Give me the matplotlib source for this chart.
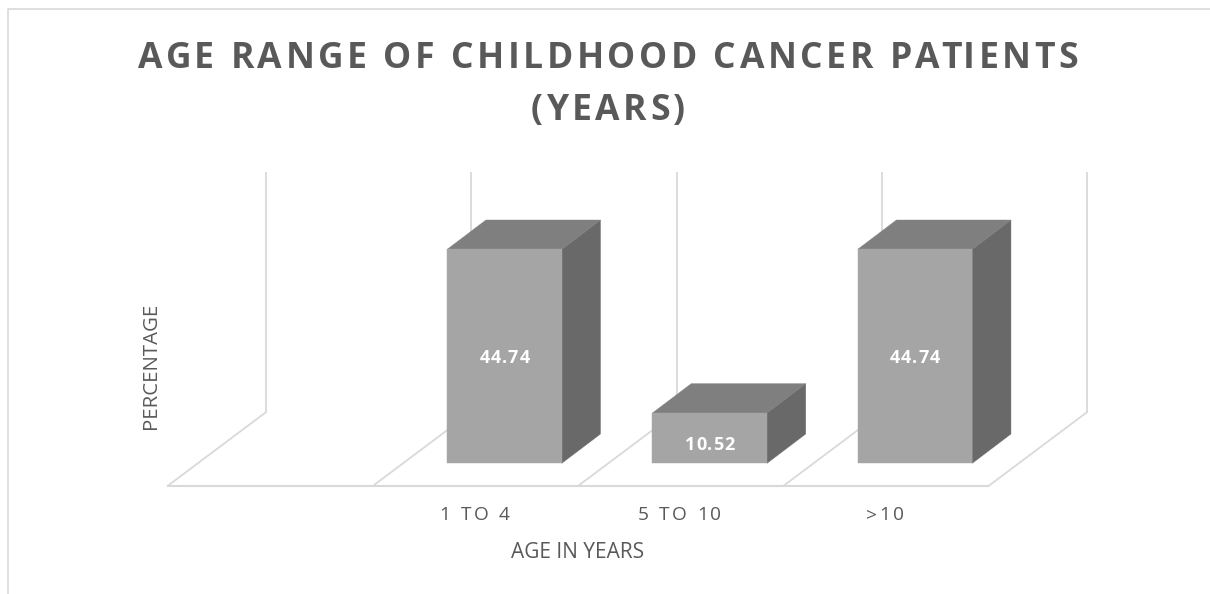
import matplotlib
matplotlib.use("Agg")
import matplotlib.pyplot as plt
from matplotlib.patches import Polygon
from matplotlib.text import Text
from matplotlib.transforms import IdentityTransform

categories = ["1 TO 4", "5 TO 10", ">10"]
values = [44.74, 10.52, 44.74]
title = "AGE RANGE OF CHILDHOOD CANCER PATIENTS\n(YEARS)"
x_label = "AGE IN YEARS"
y_label = "PERCENTAGE"

W, H = 1210, 594
plt.rcParams["font.family"] = ["Open Sans", "DejaVu Sans"]
fig = plt.figure(figsize=(W / 100, H / 100), dpi=100, facecolor="white")
ax = fig.add_axes([0, 0, 1, 1])


class SpacedText(Text):
    """A text object centred on x, with extra tracking between its letters."""

    def __init__(self, x, y, s, tracking=0.0, pitch=0.0, **kw):
        super().__init__(x, y, s, ha="center", va="baseline", **kw)
        self.tracking = tracking
        self.pitch = pitch

    def draw(self, renderer):
        if not self.get_visible():
            return
        prop = self.get_fontproperties()

        def width(s):
            return renderer.get_text_width_height_descent(s + "H", prop, False)[0] - \
                renderer.get_text_width_height_descent("H", prop, False)[0]

        px, py = self.get_transform().transform(self.get_position())
        lines = self.get_text().split("\n")
        for n, line in enumerate(lines):
            total = width(line) + self.tracking * (len(line) - 1)
            for k, ch in enumerate(line):
                if ch == " ":
                    continue
                xk = px - total / 2 + width(line[:k]) + self.tracking * k
                yk = py + self.pitch * (len(lines) - 1 - n)
                t = Text(xk, yk, ch, color=self.get_color(), fontproperties=prop,
                         ha="left", va="baseline", transform=IdentityTransform())
                t.set_figure(self.get_figure())
                t.draw(renderer)


# data scale: one category = 205.25 px, one percent = 4.783 px
PX_X, PX_Y = 205.25, 4.783
X0_PX, Y0_PX = 504.5, 463.3
ax.set_xlim(-X0_PX / PX_X, (W - X0_PX) / PX_X)
ax.set_ylim((Y0_PX - H) / PX_Y, Y0_PX / PX_Y)
ax.axis("off")

BAR_W = 114.5 / PX_X
DX, DY = 38.7 / PX_X, 29.3 / PX_Y
FLOOR_L = (167.5 - X0_PX) / PX_X
FLOOR_Y = (Y0_PX - 486) / PX_Y
BACK_DX, BACK_DY = 98.7 / PX_X, 74 / PX_Y
WALL_TOP = (Y0_PX - 172) / PX_Y
GRID = "#d9d9d9"
TEXT = "#595959"
# label placement relative to the bar middle (px): the short bar's label sits lower
LABEL_DROP = {0: 7, 1: 12, 2: 7}

for k in range(5):
    x = FLOOR_L + k
    ax.plot([x, x + BACK_DX], [FLOOR_Y, FLOOR_Y + BACK_DY], color=GRID, lw=1.3, zorder=1, solid_capstyle="round")
    ax.plot([x + BACK_DX, x + BACK_DX], [FLOOR_Y + BACK_DY, WALL_TOP], color=GRID, lw=1.3, zorder=1, solid_capstyle="butt")
ax.plot([FLOOR_L, FLOOR_L + 4], [FLOOR_Y, FLOOR_Y], color=GRID, lw=1.5, zorder=1)

for i, v in enumerate(values):
    l, r = i - BAR_W / 2, i + BAR_W / 2
    ax.add_patch(Polygon([(l, 0), (r, 0), (r, v), (l, v)], fc="#a5a5a5", ec="#a5a5a5", lw=0.3, zorder=4))
    ax.add_patch(Polygon([(r, 0), (r + DX, DY), (r + DX, v + DY), (r, v)], fc="#696969", ec="#696969", lw=0.3, zorder=3))
    ax.add_patch(Polygon([(l, v), (r, v), (r + DX, v + DY), (l + DX, v + DY)], fc="#7f7f7f", ec="#7f7f7f", lw=0.3, zorder=3))
    lab = SpacedText(i, v / 2 - LABEL_DROP[i] / PX_Y, f"{v:.2f}", tracking=1.0, color="white",
                     fontsize=13, fontweight="bold", transform=ax.transData, zorder=5)
    ax.add_artist(lab)
    tick = SpacedText(i - 30 / PX_X, (Y0_PX - 520) / PX_Y, categories[i], tracking=2.5, color=TEXT,
                      fontsize=13.8, transform=ax.transData, zorder=5)
    ax.add_artist(tick)

# chart frame (top and left edges visible)
fig.add_artist(plt.Line2D([8.3 / W, 8.3 / W, 1], [0, 1 - 9 / H, 1 - 9 / H], color=GRID, lw=1.2))

fig.add_artist(SpacedText(608 / W, 1 - 120 / H, title, tracking=3.5, pitch=51.7, color=TEXT,
                          fontsize=25.6, fontweight="bold", transform=fig.transFigure))
fig.text(578 / W, 1 - 552 / H, x_label, color=TEXT, fontsize=15, ha="center", va="center")
fig.text(151 / W, 1 - 365.5 / H, y_label, color=TEXT, fontsize=14.7, rotation=90, ha="center", va="center")

fig.savefig("out.png", dpi=100, facecolor="white")
